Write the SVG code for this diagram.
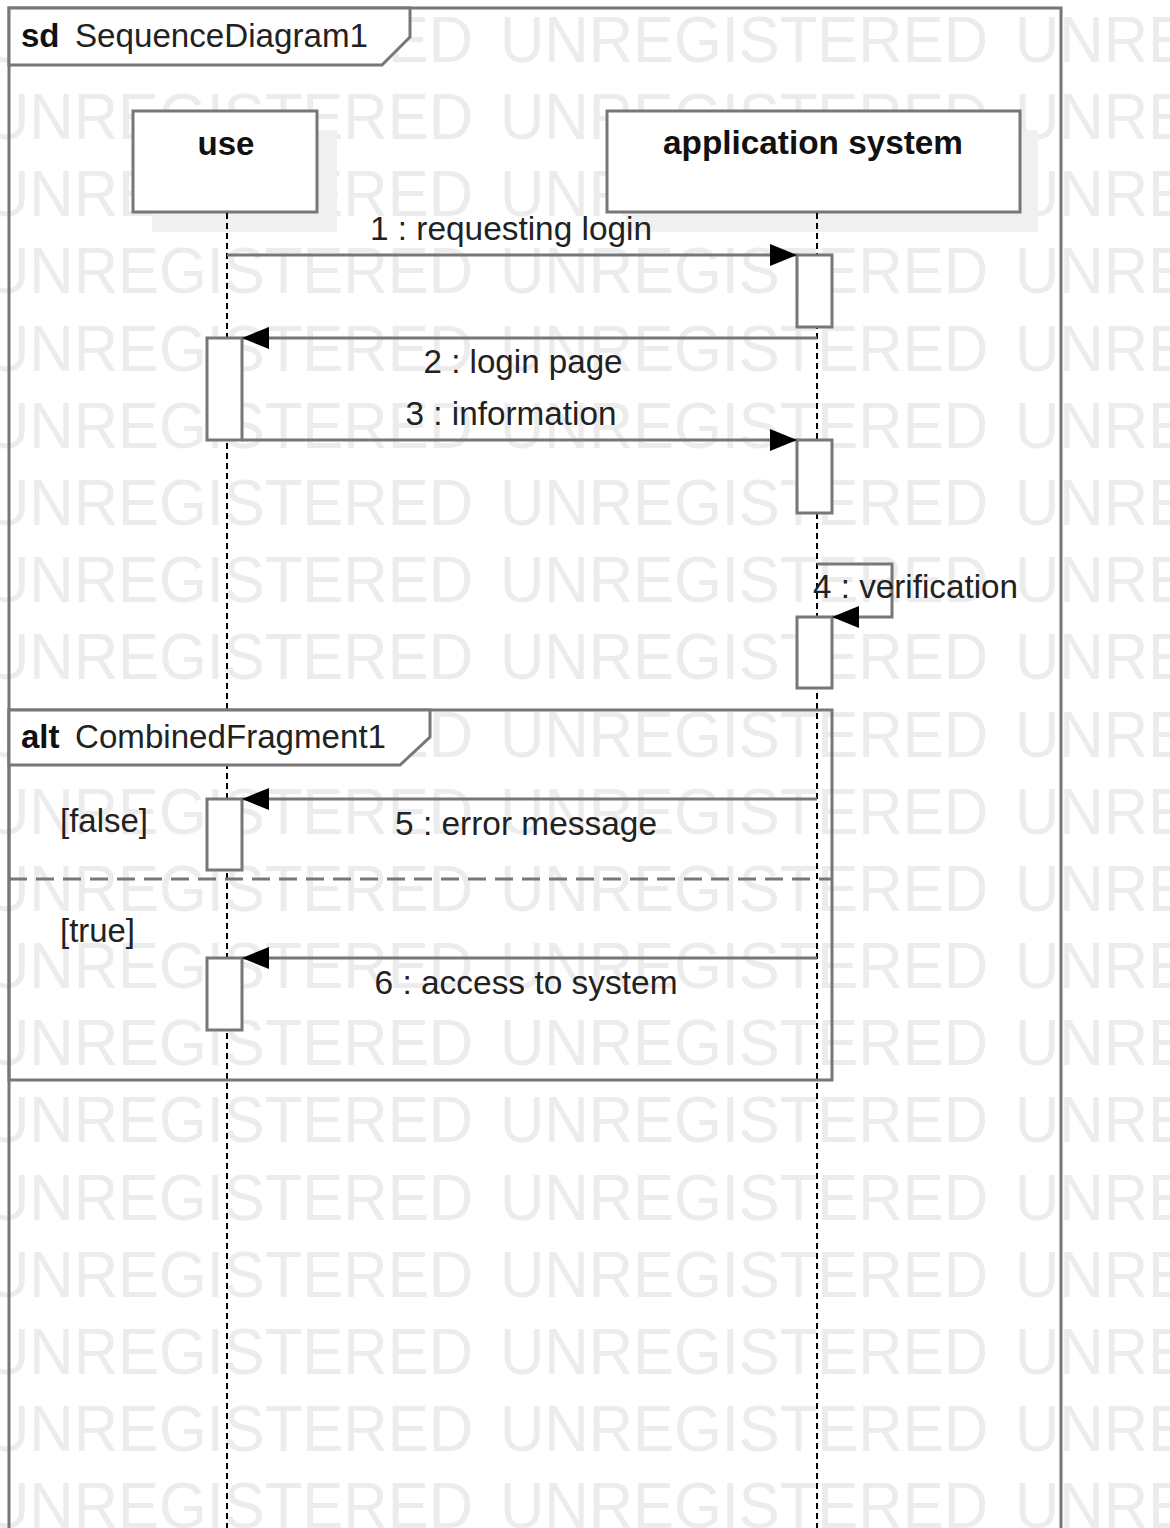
<svg xmlns="http://www.w3.org/2000/svg" width="1170" height="1528" viewBox="0 0 1170 1528">
<defs>
<style>
.wm{font-family:"Liberation Sans",Arial,sans-serif;font-size:64px;fill:#ececec}
.frame{fill:none;stroke:#777;stroke-width:3}
.hdr{fill:#fff;stroke:#777;stroke-width:3}
.box{fill:#fff;stroke:#777;stroke-width:3}
.shadow{fill:#f0f0f0}
.life{fill:none;stroke:#000;stroke-width:2;stroke-dasharray:6 4}
.act{fill:#fff;stroke:#777;stroke-width:3}
.msg{fill:none;stroke:#777;stroke-width:3}
.t{font-family:"Liberation Sans",Arial,sans-serif;font-size:33px;fill:#222}
.b{font-weight:bold;fill:#111}
.sep{fill:none;stroke:#777;stroke-width:3;stroke-dasharray:18 9}
</style>
<marker id="arr" viewBox="0 0 27 22" refX="27" refY="11" markerWidth="27" markerHeight="22" markerUnits="userSpaceOnUse" orient="auto">
<path d="M0,0 L27,11 L0,22 Z" fill="#000"/>
</marker>
</defs>
<rect width="1170" height="1528" fill="#fff"/>
<g id="watermark">
<text class="wm" x="-15" y="62" textLength="488" lengthAdjust="spacingAndGlyphs">UNREGISTERED</text><text class="wm" x="500" y="62" textLength="488" lengthAdjust="spacingAndGlyphs">UNREGISTERED</text><text class="wm" x="1015" y="62" textLength="488" lengthAdjust="spacingAndGlyphs">UNREGISTERED</text>
<text class="wm" x="-15" y="139" textLength="488" lengthAdjust="spacingAndGlyphs">UNREGISTERED</text><text class="wm" x="500" y="139" textLength="488" lengthAdjust="spacingAndGlyphs">UNREGISTERED</text><text class="wm" x="1015" y="139" textLength="488" lengthAdjust="spacingAndGlyphs">UNREGISTERED</text>
<text class="wm" x="-15" y="216" textLength="488" lengthAdjust="spacingAndGlyphs">UNREGISTERED</text><text class="wm" x="500" y="216" textLength="488" lengthAdjust="spacingAndGlyphs">UNREGISTERED</text><text class="wm" x="1015" y="216" textLength="488" lengthAdjust="spacingAndGlyphs">UNREGISTERED</text>
<text class="wm" x="-15" y="293" textLength="488" lengthAdjust="spacingAndGlyphs">UNREGISTERED</text><text class="wm" x="500" y="293" textLength="488" lengthAdjust="spacingAndGlyphs">UNREGISTERED</text><text class="wm" x="1015" y="293" textLength="488" lengthAdjust="spacingAndGlyphs">UNREGISTERED</text>
<text class="wm" x="-15" y="371" textLength="488" lengthAdjust="spacingAndGlyphs">UNREGISTERED</text><text class="wm" x="500" y="371" textLength="488" lengthAdjust="spacingAndGlyphs">UNREGISTERED</text><text class="wm" x="1015" y="371" textLength="488" lengthAdjust="spacingAndGlyphs">UNREGISTERED</text>
<text class="wm" x="-15" y="448" textLength="488" lengthAdjust="spacingAndGlyphs">UNREGISTERED</text><text class="wm" x="500" y="448" textLength="488" lengthAdjust="spacingAndGlyphs">UNREGISTERED</text><text class="wm" x="1015" y="448" textLength="488" lengthAdjust="spacingAndGlyphs">UNREGISTERED</text>
<text class="wm" x="-15" y="525" textLength="488" lengthAdjust="spacingAndGlyphs">UNREGISTERED</text><text class="wm" x="500" y="525" textLength="488" lengthAdjust="spacingAndGlyphs">UNREGISTERED</text><text class="wm" x="1015" y="525" textLength="488" lengthAdjust="spacingAndGlyphs">UNREGISTERED</text>
<text class="wm" x="-15" y="602" textLength="488" lengthAdjust="spacingAndGlyphs">UNREGISTERED</text><text class="wm" x="500" y="602" textLength="488" lengthAdjust="spacingAndGlyphs">UNREGISTERED</text><text class="wm" x="1015" y="602" textLength="488" lengthAdjust="spacingAndGlyphs">UNREGISTERED</text>
<text class="wm" x="-15" y="679" textLength="488" lengthAdjust="spacingAndGlyphs">UNREGISTERED</text><text class="wm" x="500" y="679" textLength="488" lengthAdjust="spacingAndGlyphs">UNREGISTERED</text><text class="wm" x="1015" y="679" textLength="488" lengthAdjust="spacingAndGlyphs">UNREGISTERED</text>
<text class="wm" x="-15" y="757" textLength="488" lengthAdjust="spacingAndGlyphs">UNREGISTERED</text><text class="wm" x="500" y="757" textLength="488" lengthAdjust="spacingAndGlyphs">UNREGISTERED</text><text class="wm" x="1015" y="757" textLength="488" lengthAdjust="spacingAndGlyphs">UNREGISTERED</text>
<text class="wm" x="-15" y="834" textLength="488" lengthAdjust="spacingAndGlyphs">UNREGISTERED</text><text class="wm" x="500" y="834" textLength="488" lengthAdjust="spacingAndGlyphs">UNREGISTERED</text><text class="wm" x="1015" y="834" textLength="488" lengthAdjust="spacingAndGlyphs">UNREGISTERED</text>
<text class="wm" x="-15" y="911" textLength="488" lengthAdjust="spacingAndGlyphs">UNREGISTERED</text><text class="wm" x="500" y="911" textLength="488" lengthAdjust="spacingAndGlyphs">UNREGISTERED</text><text class="wm" x="1015" y="911" textLength="488" lengthAdjust="spacingAndGlyphs">UNREGISTERED</text>
<text class="wm" x="-15" y="988" textLength="488" lengthAdjust="spacingAndGlyphs">UNREGISTERED</text><text class="wm" x="500" y="988" textLength="488" lengthAdjust="spacingAndGlyphs">UNREGISTERED</text><text class="wm" x="1015" y="988" textLength="488" lengthAdjust="spacingAndGlyphs">UNREGISTERED</text>
<text class="wm" x="-15" y="1065" textLength="488" lengthAdjust="spacingAndGlyphs">UNREGISTERED</text><text class="wm" x="500" y="1065" textLength="488" lengthAdjust="spacingAndGlyphs">UNREGISTERED</text><text class="wm" x="1015" y="1065" textLength="488" lengthAdjust="spacingAndGlyphs">UNREGISTERED</text>
<text class="wm" x="-15" y="1142" textLength="488" lengthAdjust="spacingAndGlyphs">UNREGISTERED</text><text class="wm" x="500" y="1142" textLength="488" lengthAdjust="spacingAndGlyphs">UNREGISTERED</text><text class="wm" x="1015" y="1142" textLength="488" lengthAdjust="spacingAndGlyphs">UNREGISTERED</text>
<text class="wm" x="-15" y="1220" textLength="488" lengthAdjust="spacingAndGlyphs">UNREGISTERED</text><text class="wm" x="500" y="1220" textLength="488" lengthAdjust="spacingAndGlyphs">UNREGISTERED</text><text class="wm" x="1015" y="1220" textLength="488" lengthAdjust="spacingAndGlyphs">UNREGISTERED</text>
<text class="wm" x="-15" y="1297" textLength="488" lengthAdjust="spacingAndGlyphs">UNREGISTERED</text><text class="wm" x="500" y="1297" textLength="488" lengthAdjust="spacingAndGlyphs">UNREGISTERED</text><text class="wm" x="1015" y="1297" textLength="488" lengthAdjust="spacingAndGlyphs">UNREGISTERED</text>
<text class="wm" x="-15" y="1374" textLength="488" lengthAdjust="spacingAndGlyphs">UNREGISTERED</text><text class="wm" x="500" y="1374" textLength="488" lengthAdjust="spacingAndGlyphs">UNREGISTERED</text><text class="wm" x="1015" y="1374" textLength="488" lengthAdjust="spacingAndGlyphs">UNREGISTERED</text>
<text class="wm" x="-15" y="1451" textLength="488" lengthAdjust="spacingAndGlyphs">UNREGISTERED</text><text class="wm" x="500" y="1451" textLength="488" lengthAdjust="spacingAndGlyphs">UNREGISTERED</text><text class="wm" x="1015" y="1451" textLength="488" lengthAdjust="spacingAndGlyphs">UNREGISTERED</text>
<text class="wm" x="-15" y="1528" textLength="488" lengthAdjust="spacingAndGlyphs">UNREGISTERED</text><text class="wm" x="500" y="1528" textLength="488" lengthAdjust="spacingAndGlyphs">UNREGISTERED</text><text class="wm" x="1015" y="1528" textLength="488" lengthAdjust="spacingAndGlyphs">UNREGISTERED</text>
</g>
<g id="frame-sd">
<rect class="frame" x="9" y="8" width="1052" height="1540"/>
<path class="hdr" d="M9,8 H410 V37 L382,65 H9 Z"/>
<text class="t b" x="21" y="47">sd</text>
<text class="t" x="75" y="47" textLength="293" lengthAdjust="spacingAndGlyphs">SequenceDiagram1</text>
</g>
<g id="lifeline-use">
<rect class="shadow" x="152" y="130" width="185" height="102"/>
<rect class="box" x="133" y="111" width="184" height="101"/>
<text class="t b" x="226" y="155" text-anchor="middle">use</text>
<line class="life" x1="227" y1="213" x2="227" y2="1528"/>
</g>
<g id="lifeline-app">
<rect class="shadow" x="626" y="130" width="412" height="102"/>
<rect class="box" x="607" y="111" width="413" height="101"/>
<text class="t b" x="813" y="154" text-anchor="middle" textLength="300" lengthAdjust="spacingAndGlyphs">application system</text>
<line class="life" x1="817" y1="213" x2="817" y2="1528"/>
</g>
<g id="fragment-alt">
<rect class="frame" x="9" y="710" width="823" height="370"/>
<path class="hdr" d="M9,710 H430 V737 L400,765 H9 Z"/>
<text class="t b" x="21" y="748">alt</text>
<text class="t" x="75" y="748" textLength="311" lengthAdjust="spacingAndGlyphs">CombinedFragment1</text>
<line class="sep" x1="9" y1="879" x2="832" y2="879"/>
<text class="t" x="60" y="832" textLength="88" lengthAdjust="spacingAndGlyphs">[false]</text>
<text class="t" x="60" y="942" textLength="75" lengthAdjust="spacingAndGlyphs">[true]</text>
</g>
<g id="activations">
<rect class="act" x="797" y="255" width="35" height="72"/>
<rect class="act" x="207" y="338" width="35" height="102"/>
<rect class="act" x="797" y="440" width="35" height="73"/>
<rect class="act" x="797" y="617" width="35" height="71"/>
<rect class="act" x="207" y="799" width="35" height="71"/>
<rect class="act" x="207" y="958" width="35" height="72"/>
</g>
<g id="connectors">
<line class="msg" x1="227" y1="255" x2="797" y2="255" marker-end="url(#arr)"/>
<text class="t" x="511" y="240" text-anchor="middle" textLength="282" lengthAdjust="spacingAndGlyphs">1 : requesting login</text>
<line class="msg" x1="817" y1="338" x2="242" y2="338" marker-end="url(#arr)"/>
<text class="t" x="523" y="373" text-anchor="middle" textLength="199" lengthAdjust="spacingAndGlyphs">2 : login page</text>
<line class="msg" x1="242" y1="440" x2="797" y2="440" marker-end="url(#arr)"/>
<text class="t" x="511" y="425" text-anchor="middle" textLength="211" lengthAdjust="spacingAndGlyphs">3 : information</text>
<polyline class="msg" points="817,564 892,564 892,617 832,617" marker-end="url(#arr)"/>
<text class="t" x="813" y="598" textLength="205" lengthAdjust="spacingAndGlyphs">4 : verification</text>
<line class="msg" x1="817" y1="799" x2="242" y2="799" marker-end="url(#arr)"/>
<text class="t" x="526" y="835" text-anchor="middle" textLength="262" lengthAdjust="spacingAndGlyphs">5 : error message</text>
<line class="msg" x1="817" y1="958" x2="242" y2="958" marker-end="url(#arr)"/>
<text class="t" x="526" y="994" text-anchor="middle" textLength="303" lengthAdjust="spacingAndGlyphs">6 : access to system</text>
</g>
</svg>
